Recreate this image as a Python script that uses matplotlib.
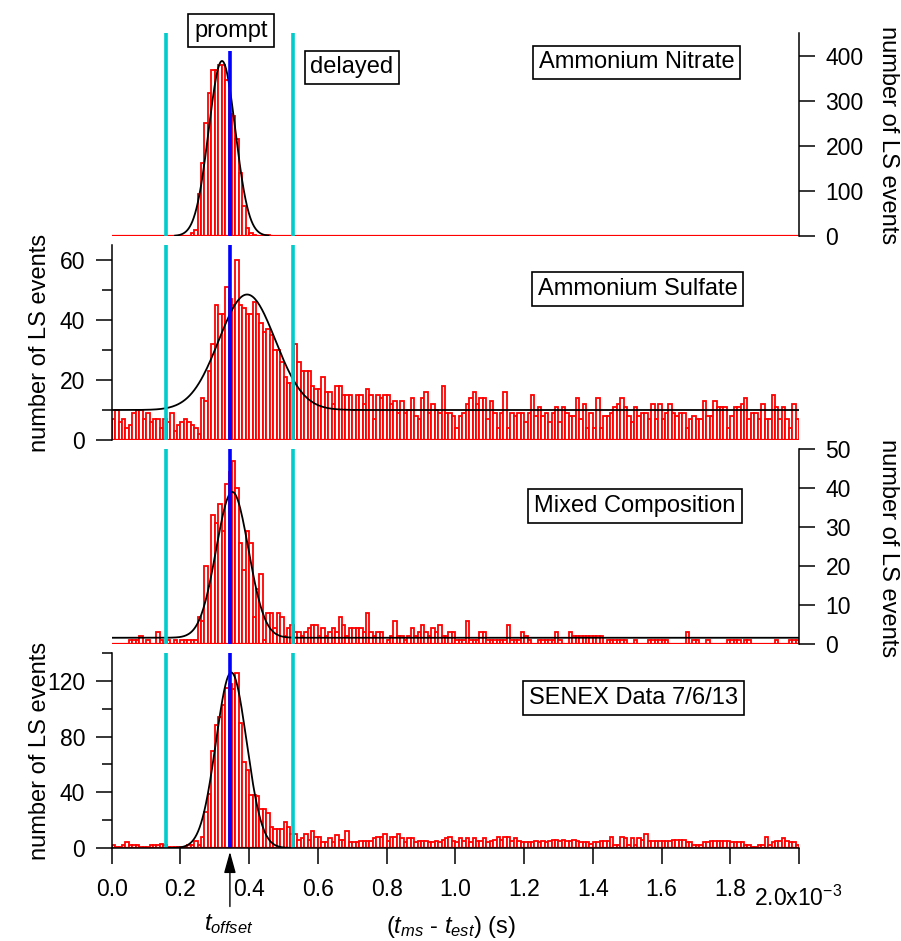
import numpy as np
import matplotlib
matplotlib.use("Agg")
import matplotlib.pyplot as plt
from matplotlib.ticker import MultipleLocator

plt.rcParams['font.family'] = ['Liberation Sans', 'DejaVu Sans']
plt.rcParams['mathtext.fontset'] = 'custom'
plt.rcParams['mathtext.rm'] = 'Liberation Sans'
plt.rcParams['mathtext.it'] = 'Liberation Sans:italic'

# ---------------- data ----------------
BIN_WIDTH = 1.0e-5          # s
N_BINS = 200

nitrate_counts = ([0] * 23 +
                  [6, 13, 92, 162, 250, 317, 367, 369, 378, 380, 345, 270, 267, 214, 140, 66, 17, 6, 2] +
                  [0, 0, 0, 3] + [0] * 154)

sulfate_counts = ([7, 10, 6, 7, 4, 5, 9, 10, 10, 7, 9, 6, 7, 7, 4, 7,
                   6, 9, 3, 5, 6, 7, 6, 5, 4, 2,
                   14, 13, 23, 32, 45, 42, 42, 51, 47, 45, 60, 45, 44, 42, 42, 46, 42, 39, 36, 37,
                   35, 30, 30, 26, 21, 19, 19,
                   32, 26, 23, 23, 23, 18, 17, 17, 21, 16, 16, 12, 18, 18, 15, 15, 15, 10, 15, 15,
                   12, 17, 15, 7, 15, 14, 15, 15, 12, 13, 9, 13, 9, 10, 14, 8, 7, 14, 16, 9, 12, 10,
                   9, 18, 9, 9] +
                  [8, 4, 8, 9, 12, 14, 16, 12, 14, 14,
                   7, 13, 9, 4, 9, 16, 4, 9, 8, 9,
                   9, 6, 9, 15, 8, 11, 8, 9, 6, 9,
                   11, 6, 11, 9, 8, 8, 14, 7, 12, 4,
                   9, 4, 14, 4, 8, 8, 9, 11, 12, 14,
                   11, 8, 6, 11, 8, 9, 9, 7, 12, 7,
                   12, 7, 9, 12, 9, 8, 9, 9, 4, 7,
                   8, 7, 7, 13, 8, 8, 13, 11, 11, 11,
                   4, 8, 11, 11, 12, 14, 7, 9, 9, 7,
                   12, 7, 7, 15, 11, 7, 11, 7, 4, 12, 7])

mixed_counts = ([0, 0, 0, 0, 0, 1, 1, 1, 2, 0, 1, 0, 0, 3, 1, 0, 1, 0, 1, 0, 1, 1, 1, 1, 1] +
                [7, 6, 20, 15, 33, 31, 36, 29, 41, 44, 47, 40, 26, 19, 29, 26, 7, 14, 18, 1,
                 8, 8, 4, 8, 7, 2, 4, 5, 3] +
                [3, 2, 3, 4, 5, 5, 2, 4, 2, 3, 4, 3, 7, 5, 2, 4, 4, 4, 4, 3, 8, 3, 2, 3, 3,
                 0, 1, 2, 6, 2, 2, 1, 2, 4, 2, 3, 5, 3, 2, 4, 3, 5, 2, 2, 3] +
                [3, 1, 1, 1, 6, 1, 1, 1, 3, 3, 1, 1, 1, 1, 1, 1, 5, 1, 1, 1, 3, 2, 1, 0, 0,
                 1, 1, 1, 1, 1, 3, 1, 0, 0, 3, 2, 2, 2, 2, 2, 2, 2, 2, 2, 0, 1, 1, 1, 1, 1,
                 1, 0, 0, 1, 0, 0, 0, 1, 1, 1, 1, 1, 1, 0, 0, 0, 0, 0, 3, 0, 1, 1, 0, 0, 1,
                 0, 0, 0, 0, 0, 1, 1, 1, 1, 0, 1, 1, 0, 0, 0, 0, 0, 0, 0, 1, 0, 0, 0, 1, 1, 1])

senex_counts = ([2, 1, 1, 2, 4, 2, 2, 2, 1, 1, 1, 2, 2, 2, 3, 2, 1, 1, 1, 1, 1, 1, 2] +
                [2, 5, 2, 8, 26, 39, 70, 88, 94, 103, 115, 118, 114, 126, 90, 62, 56, 38, 38, 37,
                 28, 28, 25, 15, 14, 14, 14, 19, 15, 10, 10, 6, 7, 10, 6, 12, 8, 8, 4, 4, 7, 4, 9] +
                [6, 6, 12, 4, 4, 4, 5, 5, 5, 5, 7, 8, 8, 10, 5, 8, 8, 10, 7, 4, 7, 7, 4, 5, 5,
                 5, 4, 4, 5, 4, 6, 7, 8] +
                [5, 4, 7, 5, 7, 4, 7, 5, 5, 7,
                 4, 5, 6, 8, 6, 8, 8, 5, 7, 5,
                 4, 4, 4, 4, 5, 4, 5, 4, 5, 6,
                 6, 5, 6, 5, 5, 6, 5, 4, 4, 4,
                 3, 4, 4, 5, 5, 5, 8, 2, 2, 8,
                 7, 2, 7, 2, 7, 6, 10, 5, 5, 5,
                 5, 5, 5, 5, 6, 6, 6, 6, 4, 4,
                 2, 2, 2, 4, 4, 5, 5, 5, 5, 5,
                 5, 4, 4, 4, 4, 2, 2, 1, 1, 2,
                 2, 8, 2, 4, 5, 5, 7, 5, 4, 4, 2])

panel_names = ["Ammonium Nitrate", "Ammonium Sulfate", "Mixed Composition", "SENEX Data 7/6/13"]

# Gaussian fit parameters per panel: amplitude, centre (s), sigma (s), baseline, fit range
fit_amp = [388.0, 38.5, 37.4, 126.0]
fit_center = [0.321e-3, 0.394e-3, 0.351e-3, 0.348e-3]
fit_sigma = [0.0387e-3, 0.082e-3, 0.047e-3, 0.0445e-3]
fit_base = [0.0, 10.0, 1.6, 0.0]
fit_xmin = [0.184e-3, 0.0, 0.0, 0.16e-3]
fit_xmax = [0.456e-3, 2.0e-3, 2.0e-3, 0.53e-3]

prompt_window = [0.158e-3, 0.529e-3]   # cyan lines
t_offset = 0.344e-3                    # blue line

x_ticks = [0.0, 0.2e-3, 0.4e-3, 0.6e-3, 0.8e-3, 1.0e-3, 1.2e-3, 1.4e-3, 1.6e-3, 1.8e-3, 2.0e-3]
x_tick_labels = ["0.0", "0.2", "0.4", "0.6", "0.8", "1.0", "1.2", "1.4", "1.6", "1.8", ""]

# ---------------- layout ----------------
W, H = 901, 941
fig = plt.figure(figsize=(W / 100, H / 100), dpi=100)

def fx(px):
    return px / W

def fy(py):
    return 1 - py / H

X0, X1 = 111.7, 799.0
panel_px = [(33, 236), (245, 440), (449, 644), (653, 848)]
ylims = [450, 65, 50, 140]
y_major = [100, 20, 10, 40]
y_minor = [None, 10, None, 20]
right_side = [True, False, True, False]

RED = '#ff0000'
CYAN = '#00cccc'
BLUE = '#0000ff'
FS = 17
TFS = 16.5
BAR_LW = 1.3

counts_all = [nitrate_counts, sulfate_counts, mixed_counts, senex_counts]
bin_left = np.arange(N_BINS) * BIN_WIDTH

axes = []
for i, (top, bot) in enumerate(panel_px):
    ax = fig.add_axes([fx(X0), fy(bot), fx(X1) - fx(X0), (bot - top) / H])
    axes.append(ax)
    ax.set_facecolor('none')
    ax.bar(bin_left, counts_all[i], width=BIN_WIDTH, align='edge', facecolor='white',
           edgecolor=RED, linewidth=BAR_LW, zorder=1)
    # histogram baseline (zero-height bins drawn as a flat red line)
    ax.axhline(0, color=RED, lw=BAR_LW + 0.3, zorder=1.5)
    xf = np.linspace(fit_xmin[i], fit_xmax[i], 600)
    yf = fit_base[i] + fit_amp[i] * np.exp(-0.5 * ((xf - fit_center[i]) / fit_sigma[i]) ** 2)
    ax.plot(xf, yf, color='black', lw=1.3, zorder=3)
    for xc in prompt_window:
        ax.axvline(xc, color=CYAN, lw=2.6, zorder=4, solid_capstyle='butt')
    if i == 0:
        ax.vlines(t_offset, 0, 410, color=BLUE, lw=2.6, zorder=5, capstyle='butt')
    else:
        ax.axvline(t_offset, color=BLUE, lw=2.6, zorder=5, solid_capstyle='butt')

    ax.set_xlim(0, 2.0e-3)
    ax.set_ylim(0, ylims[i])
    for s in ax.spines.values():
        s.set_visible(False)
        s.set_linewidth(1.1)
    ax.yaxis.set_major_locator(MultipleLocator(y_major[i]))
    if y_minor[i]:
        ax.yaxis.set_minor_locator(MultipleLocator(y_minor[i]))
    if right_side[i]:
        ax.spines['right'].set_visible(True)
        ax.yaxis.tick_right()
    else:
        ax.spines['left'].set_visible(True)
        ax.yaxis.tick_left()
    ax.tick_params(axis='y', which='major', direction='out', length=11.5, width=1.1,
                   pad=7.5, labelsize=TFS)
    ax.tick_params(axis='y', which='minor', direction='out', length=7.5, width=1.1)
    if i < 3:
        ax.tick_params(axis='x', which='both', bottom=False, labelbottom=False)
    else:
        ax.spines['bottom'].set_visible(True)
        ax.spines['bottom'].set_zorder(6)
        ax.set_xticks(x_ticks)
        ax.set_xticklabels(x_tick_labels)
        ax.tick_params(axis='x', which='major', direction='out', length=11.5, width=1.1,
                       pad=10, labelsize=TFS)

# panel title boxes
box = dict(boxstyle='square,pad=0.25', facecolor='white', edgecolor='black', linewidth=1.2)
title_pos = [(636.5, 62.5), (637.5, 289), (635, 506), (633.7, 698)]
for name, (px, py) in zip(panel_names, title_pos):
    fig.text(fx(px), fy(py), name, fontsize=FS, ha='center', va='center', bbox=box, zorder=10)

fig.text(fx(231), fy(30.5), "prompt", fontsize=FS, ha='center', va='center', bbox=box, zorder=10)
fig.text(fx(352), fy(67.5), "delayed", fontsize=FS, ha='center', va='center', bbox=box, zorder=10)

# y labels
ylab = "number of LS events"
fig.text(fx(888), fy(135), ylab, fontsize=FS, rotation=-90, ha='center', va='center')
fig.text(fx(40), fy(343), ylab, fontsize=FS, rotation=90, ha='center', va='center')
fig.text(fx(888), fy(548), ylab, fontsize=FS, rotation=-90, ha='center', va='center')
fig.text(fx(40), fy(751), ylab, fontsize=FS, rotation=90, ha='center', va='center')

# x axis extras
ax4 = axes[3]
fig.text(fx(798.5), fy(905.5), r"2.0x10$^{\mathregular{-3}}$", fontsize=TFS, ha='center', va='baseline')
fig.text(fx(451), fy(933), r"($t_{ms}$ - $t_{est}$) (s)", fontsize=FS, ha='center', va='baseline')
fig.text(fx(229), fy(930), r"$t_{offset}$", fontsize=FS, ha='center', va='baseline')
ax4.annotate('', xy=(t_offset, -0.019), xycoords=('data', 'axes fraction'),
             xytext=(t_offset, -0.30), textcoords=('data', 'axes fraction'),
             arrowprops=dict(arrowstyle='-|>,head_length=1.3,head_width=0.36', color='black',
                             lw=1.0, mutation_scale=10, shrinkA=0, shrinkB=0),
             annotation_clip=False)

fig.savefig("out.png", dpi=100)
